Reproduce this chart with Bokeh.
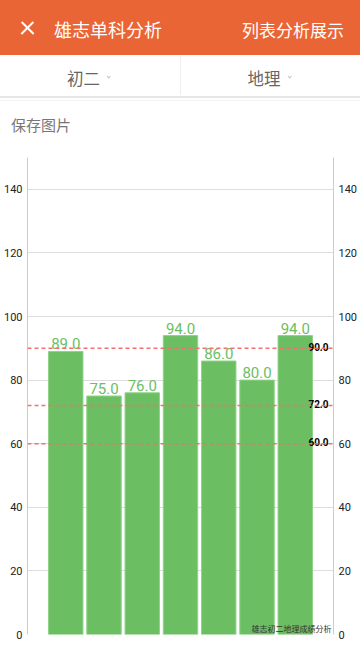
from bokeh.plotting import figure
from bokeh.models import Range1d, LinearAxis, FixedTicker, Div, Span
from bokeh.layouts import column
from bokeh.core.properties import value
from bokeh.embed import file_html
from bokeh.resources import INLINE

# ---- data ----
app_title = "雄志单科分析"
app_action = "列表分析展示"
grade_tab = "初二"
subject_tab = "地理"
save_text = "保存图片"
chart_caption = "雄志初二地理成绩分析"
bar_index = [0, 1, 2, 3, 4, 5, 6]
scores = [89.0, 75.0, 76.0, 94.0, 86.0, 80.0, 94.0]
limit_lines = [90.0, 72.0, 60.0]
y_ticks = [0, 20, 40, 60, 80, 100, 120, 140]

CJK = value("Noto Sans CJK SC")
ROBOTO = value("Roboto")
ORANGE = "#EA6535"
GREEN = "#6CBE63"

# ---- header + tabs (HTML) ----
ab = "position:absolute;"
mid = "transform:translate(-50%,-50%);line-height:1;white-space:nowrap;"
html = f"""
<div style="position:relative;width:360px;height:145px;background:#fff;overflow:hidden;font-family:'Noto Sans CJK SC',sans-serif;">
 <div style="{ab}left:0;top:0;width:360px;height:55px;background:{ORANGE};"></div>
 <div style="{ab}left:19px;top:26.8px;width:17px;height:2.4px;background:#fff;transform:rotate(45deg);"></div>
 <div style="{ab}left:19px;top:26.8px;width:17px;height:2.4px;background:#fff;transform:rotate(-45deg);"></div>
 <div style="{ab}left:54px;top:29px;transform:translateY(-50%);line-height:1;white-space:nowrap;color:#fff;font-size:18px;">{app_title}</div>
 <div style="{ab}right:16px;top:29px;transform:translateY(-50%);line-height:1;white-space:nowrap;color:#fff;font-size:17px;">{app_action}</div>
 <div style="{ab}left:180px;top:56px;width:1px;height:39px;background:#EEEEEE;"></div>
 <div style="{ab}left:83.5px;top:77.5px;{mid}color:#666;font-size:16.5px;">{grade_tab}</div>
 <div style="{ab}left:264px;top:77.5px;{mid}color:#666;font-size:16.5px;">{subject_tab}</div>
 <div style="{ab}left:107.3px;top:74.6px;width:3.4px;height:3.4px;border-right:1px solid #C4C4C4;border-bottom:1px solid #C4C4C4;transform:rotate(45deg);"></div>
 <div style="{ab}left:287.8px;top:74.6px;width:3.4px;height:3.4px;border-right:1px solid #C4C4C4;border-bottom:1px solid #C4C4C4;transform:rotate(45deg);"></div>
 <div style="{ab}left:0;top:96px;width:360px;height:2px;background:#E6E6E6;"></div>
 <div style="{ab}left:0;top:100px;width:360px;height:1px;background:#F3F3F3;"></div>
 <div style="{ab}left:11px;top:124px;transform:translateY(-50%);line-height:1;white-space:nowrap;color:#777;font-size:15px;">{save_text}</div>
</div>
"""
top_div = Div(text=html, width=360, height=145, margin=(0, 0, 0, 0))

# ---- chart ----
p = figure(width=360, height=505, x_range=Range1d(-1, 7), y_range=Range1d(0, 150),
           min_border_left=27, min_border_right=27, min_border_top=12, min_border_bottom=16,
           toolbar_location=None, output_backend="svg", x_axis_location=None)
p.outline_line_color = None
p.xgrid.visible = False
ticker = FixedTicker(ticks=y_ticks)
p.ygrid.ticker = ticker
p.ygrid.grid_line_color = "#DDDDDD"


def style_axis(ax):
    ax.ticker = ticker
    ax.axis_line_color = "#CCCCCC"
    ax.major_tick_line_color = None
    ax.minor_tick_line_color = None
    ax.major_tick_out = 0
    ax.major_tick_in = 0
    ax.major_label_standoff = 5
    ax.major_label_text_font = "Roboto"
    ax.major_label_text_font_size = "11px"
    ax.major_label_text_color = "#222222"


style_axis(p.yaxis[0])
right_ax = LinearAxis()
p.add_layout(right_ax, "right")
style_axis(right_ax)

p.vbar(x=bar_index, top=scores, width=0.9, fill_color=GREEN, line_color="#8FD389", line_width=1)
p.text(x=bar_index, y=scores, text=[f"{v:.1f}" for v in scores], text_font=ROBOTO,
       text_font_size="15px", text_color=GREEN, text_align="center", text_baseline="bottom",
       y_offset=-2)

for v in limit_lines:
    p.add_layout(Span(location=v, dimension="width", line_color="#F27070", line_dash="4 3",
                      line_width=1.4, level="overlay"))
p.text(x=[7] * len(limit_lines), y=limit_lines, text=[f"{v:.1f}" for v in limit_lines],
       text_font=ROBOTO, text_font_size="10px", text_font_style="bold", text_color="black",
       text_align="right", text_baseline="alphabetic", x_offset=-5, y_offset=-1.5)

p.text(x=[7], y=[0], text=[chart_caption], text_font=CJK, text_font_size="8px",
       text_color="#333333", text_align="right", text_baseline="bottom", x_offset=-2, y_offset=-1)

layout = column(top_div, p, spacing=0)
open("out.html", "w").write(file_html(layout, INLINE))
